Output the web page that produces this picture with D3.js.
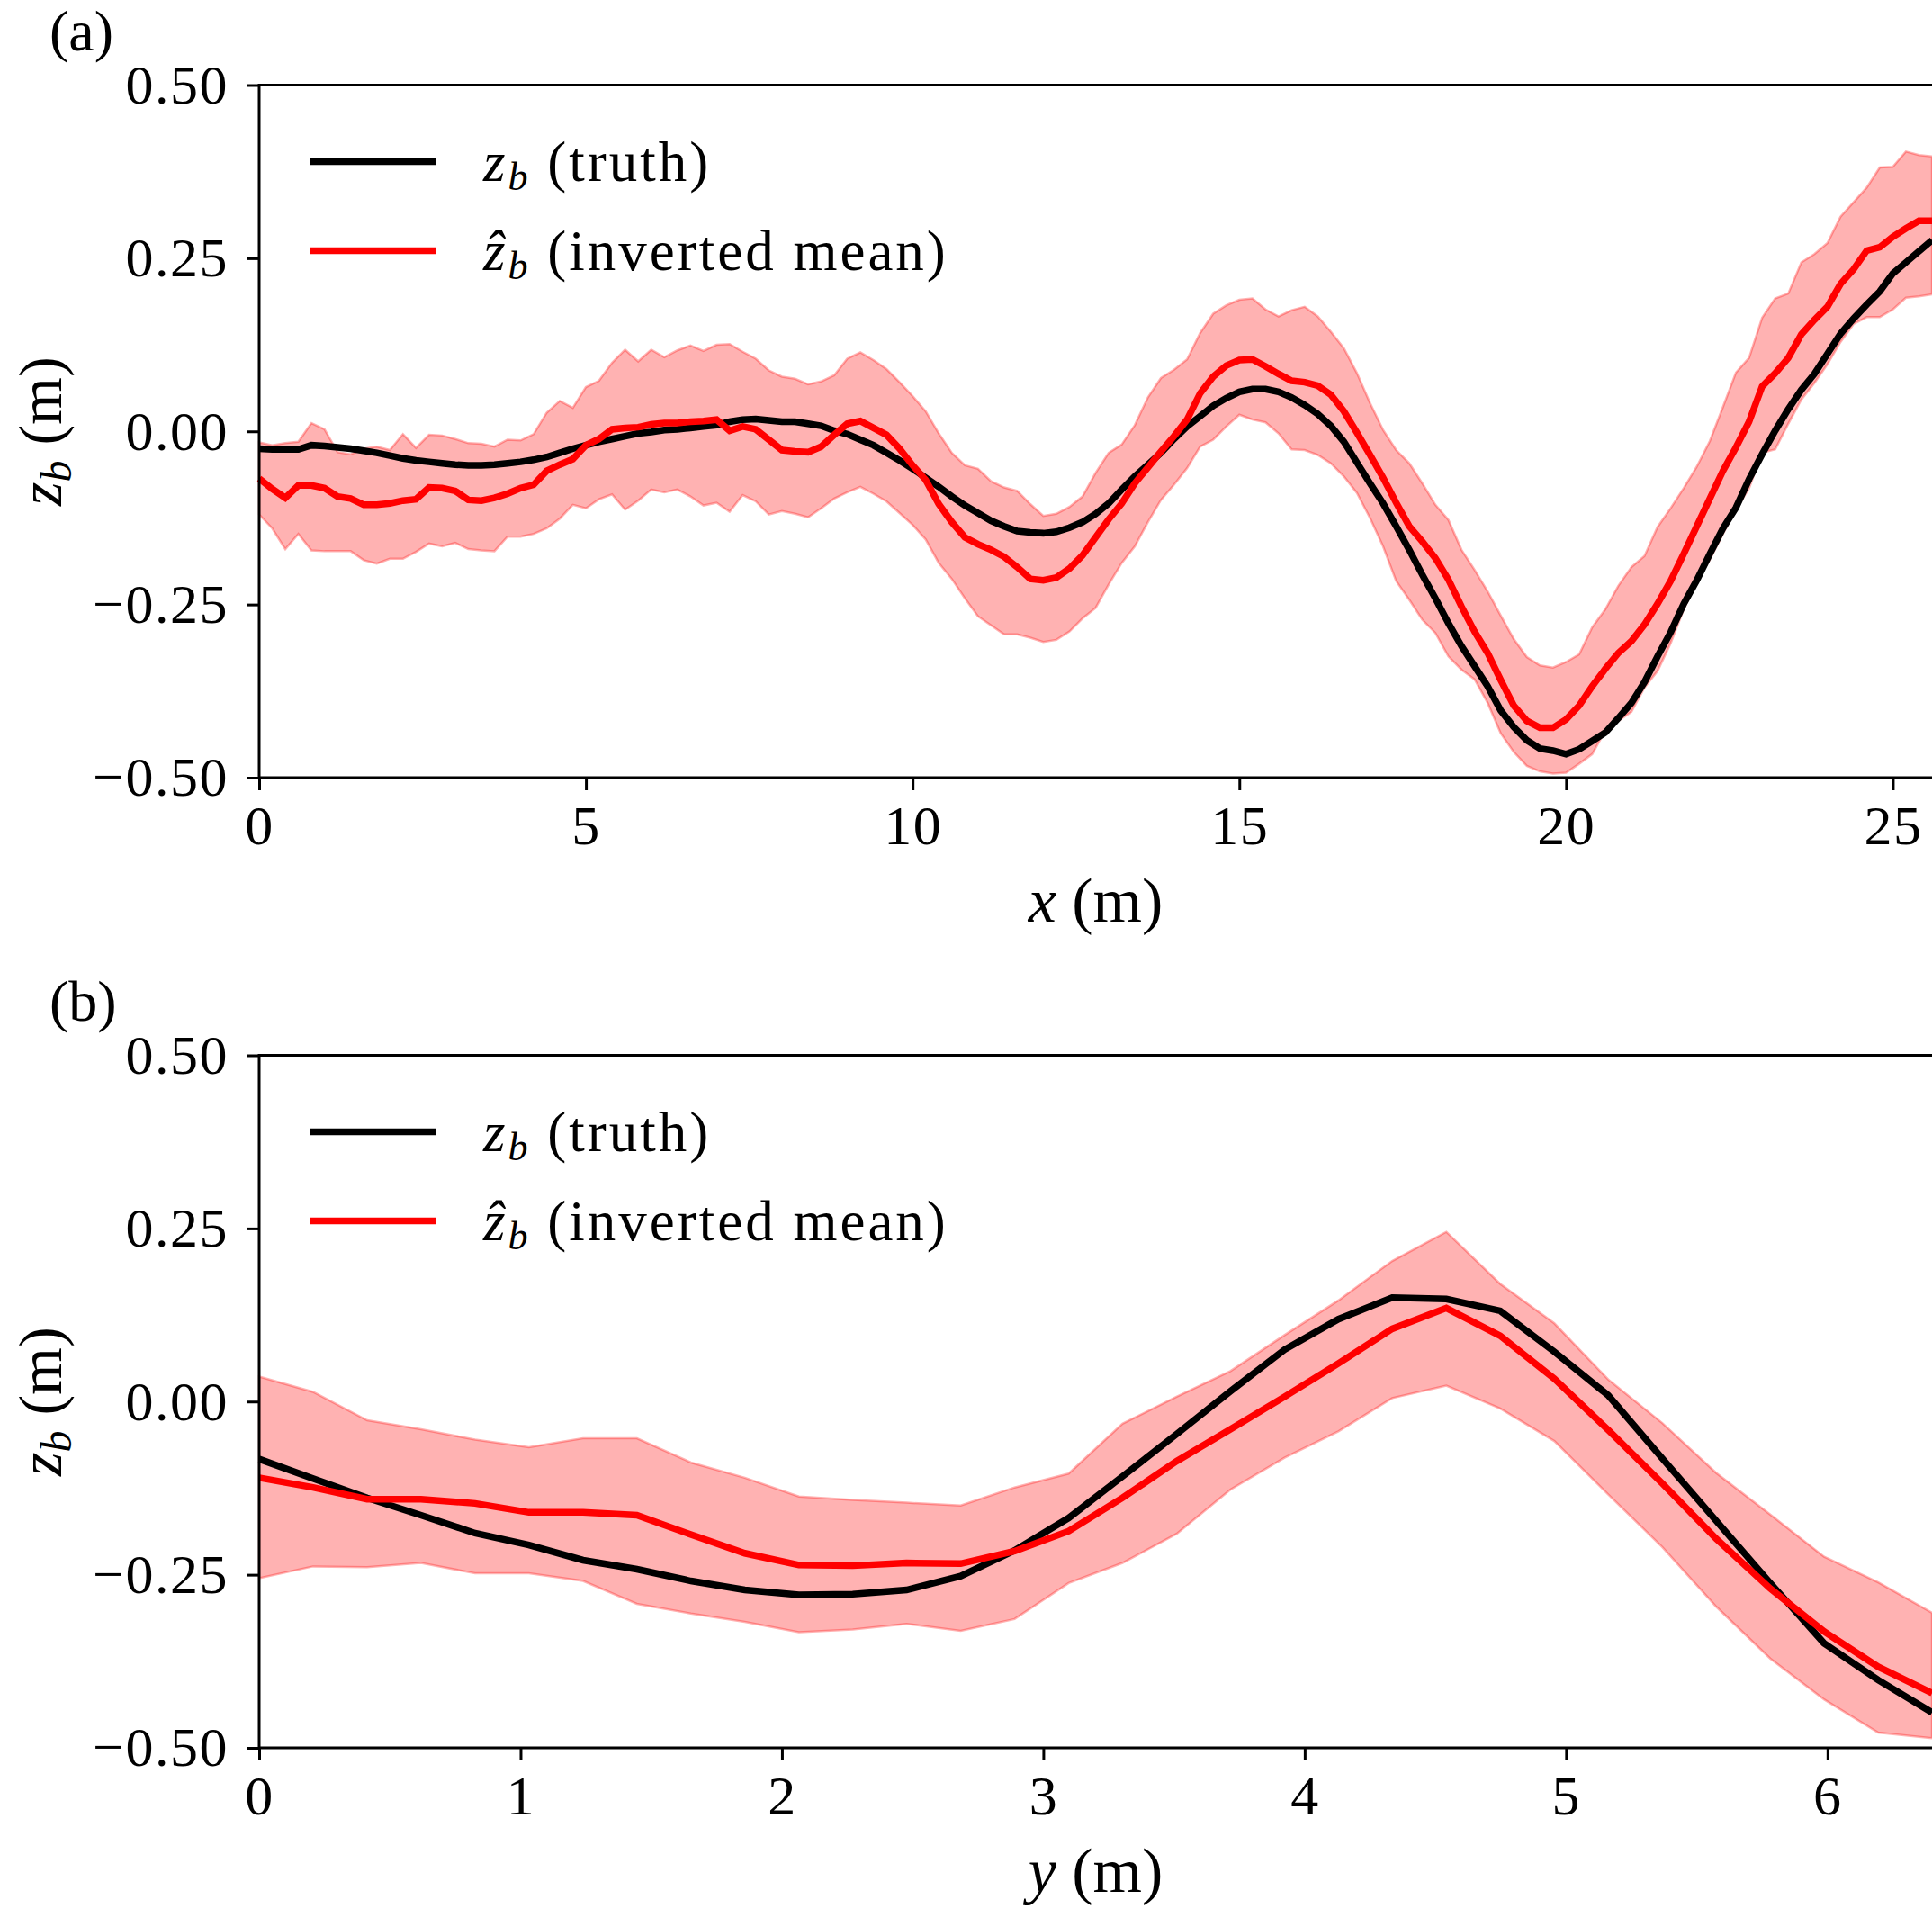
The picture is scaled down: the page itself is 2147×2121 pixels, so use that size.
<!DOCTYPE html>
<html>
<head>
 <meta charset="utf-8">
 <script src="https://d3js.org/d3.v7.min.js"></script>
 <style>
  body { margin: 0; background: #fff; }
  svg text { font-family: "Liberation Serif", "DejaVu Serif", serif; fill: #000; }
 </style>
</head>
<body>
 <div id="fig"></div>
 <script type="text/javascript">
   // ---- panel (a): profile along x ----
   var xA = [0,0.2,0.4,0.6,0.8,1,1.2,1.4,1.6,1.8,2,2.2,2.4,2.6,2.8,3,3.2,3.4,3.6,3.8,4,4.2,4.4,4.6,4.8,
     5,5.2,5.4,5.6,5.8,6,6.2,6.4,6.6,6.8,7,7.2,7.4,7.6,7.8,8,8.2,8.4,8.6,8.8,9,9.2,9.4,9.6,9.8,
     10,10.2,10.4,10.6,10.8,11,11.2,11.4,11.6,11.8,12,12.2,12.4,12.6,12.8,13,13.2,13.4,13.6,13.8,
     14,14.2,14.4,14.6,14.8,15,15.2,15.4,15.6,15.8,16,16.2,16.4,16.6,16.8,17,17.2,17.4,17.6,17.8,
     18,18.2,18.4,18.6,18.8,19,19.2,19.4,19.6,19.8,20,20.2,20.4,20.6,20.8,21,21.2,21.4,21.6,21.8,
     22,22.2,22.4,22.6,22.8,23,23.2,23.4,23.6,23.8,24,24.2,24.4,24.6,24.8,25,25.2,25.4,25.6];
   var truthA = [-0.025,-0.026,-0.026,-0.026,-0.020,-0.021,-0.023,-0.025,-0.028,-0.031,-0.035,-0.039,-0.042,-0.044,-0.046,-0.048,-0.049,-0.049,-0.048,-0.046,-0.044,-0.041,-0.037,-0.031,-0.025,-0.020,-0.015,-0.011,-0.007,-0.003,-0.001,0.002,0.003,
     0.005,0.007,0.009,0.014,0.017,0.018,0.016,0.014,0.014,0.011,0.008,0.001,-0.004,-0.012,-0.020,-0.031,-0.042,-0.054,-0.067,-0.080,-0.094,-0.107,-0.118,-0.129,-0.137,-0.144,-0.146,-0.147,-0.145,-0.139,-0.131,-0.119,
     -0.104,-0.084,-0.065,-0.048,-0.031,-0.011,0.007,0.022,0.037,0.048,0.057,0.061,0.061,0.057,0.049,0.038,0.025,0.008,-0.015,-0.045,-0.075,-0.104,-0.137,-0.171,-0.207,-0.241,-0.277,-0.310,-0.339,-0.368,
     -0.403,-0.427,-0.446,-0.458,-0.461,-0.466,-0.459,-0.447,-0.435,-0.414,-0.392,-0.362,-0.325,-0.290,-0.249,-0.215,-0.177,-0.140,-0.110,-0.069,-0.033,0.001,0.032,0.060,0.083,0.112,0.141,0.163,0.183,0.202,0.228,0.244,0.260,0.276];
   var meanA = [-0.068,-0.083,-0.096,-0.078,-0.078,-0.082,-0.094,-0.097,-0.106,-0.106,-0.104,-0.100,-0.098,-0.081,-0.082,-0.086,-0.099,-0.100,-0.096,-0.090,-0.082,-0.077,-0.057,-0.048,-0.040,-0.020,-0.011,0.003,0.005,0.006,0.010,0.012,0.012,
     0.014,0.015,0.017,0.001,0.007,0.003,-0.012,-0.027,-0.029,-0.030,-0.022,-0.005,0.011,0.015,0.005,-0.005,-0.025,-0.049,-0.070,-0.105,-0.131,-0.153,-0.163,-0.171,-0.181,-0.196,-0.213,-0.215,-0.211,-0.198,-0.179,-0.153,
     -0.127,-0.104,-0.075,-0.052,-0.029,-0.007,0.017,0.055,0.079,0.095,0.103,0.104,0.094,0.083,0.073,0.071,0.066,0.053,0.029,-0.002,-0.034,-0.067,-0.103,-0.137,-0.159,-0.183,-0.214,-0.253,-0.289,-0.320,
     -0.359,-0.396,-0.418,-0.428,-0.428,-0.416,-0.396,-0.368,-0.343,-0.320,-0.303,-0.279,-0.249,-0.216,-0.177,-0.137,-0.097,-0.057,-0.023,0.014,0.065,0.084,0.106,0.140,0.161,0.180,0.213,0.234,0.261,0.266,0.281,0.293,0.304,0.304];
   var upperA = [-0.016,-0.020,-0.017,-0.015,0.012,0.003,-0.030,-0.033,-0.025,-0.022,-0.027,-0.004,-0.024,-0.005,-0.006,-0.011,-0.017,-0.018,-0.022,-0.012,-0.013,-0.004,0.027,0.044,0.034,0.064,0.073,0.099,0.118,0.101,0.118,0.107,0.117,
     0.124,0.116,0.125,0.126,0.115,0.105,0.088,0.079,0.076,0.068,0.072,0.081,0.105,0.114,0.103,0.090,0.071,0.051,0.029,-0.003,-0.031,-0.049,-0.054,-0.072,-0.081,-0.086,-0.105,-0.122,-0.119,-0.109,-0.094,-0.060,
     -0.031,-0.019,0.009,0.049,0.077,0.089,0.104,0.142,0.170,0.182,0.190,0.192,0.176,0.166,0.175,0.180,0.166,0.144,0.120,0.084,0.041,0.002,-0.027,-0.046,-0.075,-0.106,-0.128,-0.171,-0.200,-0.231,
     -0.266,-0.300,-0.326,-0.338,-0.341,-0.333,-0.322,-0.283,-0.257,-0.223,-0.196,-0.180,-0.138,-0.111,-0.082,-0.051,-0.014,0.035,0.085,0.106,0.164,0.192,0.199,0.244,0.256,0.272,0.310,0.331,0.352,0.381,0.382,0.404,0.399,0.397];
   var lowerA = [-0.120,-0.140,-0.170,-0.148,-0.172,-0.173,-0.173,-0.173,-0.186,-0.191,-0.184,-0.184,-0.174,-0.162,-0.166,-0.161,-0.170,-0.172,-0.173,-0.152,-0.152,-0.148,-0.140,-0.126,-0.106,-0.111,-0.098,-0.091,-0.113,-0.100,-0.084,-0.088,-0.084,
     -0.094,-0.107,-0.103,-0.116,-0.092,-0.101,-0.120,-0.115,-0.119,-0.124,-0.111,-0.097,-0.088,-0.080,-0.090,-0.101,-0.118,-0.135,-0.156,-0.190,-0.213,-0.241,-0.267,-0.280,-0.293,-0.293,-0.298,-0.304,-0.301,-0.289,-0.270,-0.255,
     -0.221,-0.190,-0.166,-0.131,-0.099,-0.077,-0.053,-0.022,-0.012,0.007,0.024,0.017,0.013,-0.003,-0.026,-0.027,-0.034,-0.046,-0.065,-0.089,-0.125,-0.166,-0.216,-0.243,-0.272,-0.291,-0.325,-0.344,-0.358,-0.392,
     -0.436,-0.463,-0.483,-0.491,-0.494,-0.493,-0.480,-0.466,-0.432,-0.418,-0.405,-0.370,-0.346,-0.306,-0.257,-0.217,-0.185,-0.148,-0.113,-0.082,-0.031,-0.026,0.011,0.046,0.070,0.097,0.129,0.155,0.165,0.165,0.176,0.193,0.195,0.198];

   // ---- panel (b): profile along y ----
   var xB = [0,0.206,0.413,0.619,0.826,1.032,1.239,1.445,1.652,1.858,2.065,2.271,2.477,2.684,2.890,3.097,
     3.303,3.510,3.716,3.923,4.129,4.335,4.542,4.748,4.955,5.161,5.368,5.574,5.781,5.987,6.194,6.4];
   var truthB = [-0.083,-0.111,-0.139,-0.164,-0.190,-0.207,-0.229,-0.242,-0.259,-0.272,-0.279,-0.278,-0.272,-0.252,-0.215,-0.168,
     -0.108,-0.047,0.015,0.075,0.119,0.150,0.148,0.131,0.072,0.009,-0.082,-0.172,-0.262,-0.349,-0.402,-0.449];
   var meanB = [-0.110,-0.124,-0.141,-0.141,-0.147,-0.160,-0.160,-0.164,-0.192,-0.219,-0.236,-0.237,-0.233,-0.234,-0.216,-0.187,
     -0.139,-0.086,-0.040,0.007,0.055,0.105,0.135,0.095,0.033,-0.041,-0.118,-0.198,-0.270,-0.332,-0.383,-0.421];
   var upperB = [0.036,0.014,-0.027,-0.040,-0.055,-0.066,-0.053,-0.053,-0.088,-0.110,-0.137,-0.142,-0.146,-0.150,-0.124,-0.104,
     -0.032,0.007,0.044,0.096,0.146,0.203,0.245,0.170,0.113,0.032,-0.031,-0.103,-0.163,-0.224,-0.261,-0.305];
   var lowerB = [-0.255,-0.238,-0.239,-0.233,-0.248,-0.248,-0.259,-0.292,-0.306,-0.318,-0.333,-0.329,-0.321,-0.331,-0.314,-0.262,
     -0.233,-0.191,-0.127,-0.081,-0.043,0.005,0.023,-0.010,-0.057,-0.134,-0.210,-0.296,-0.371,-0.430,-0.478,-0.486];

   var yTicks = [-0.5, -0.25, 0, 0.25, 0.5];
   var xTicksA = [0, 5, 10, 15, 20, 25];
   var xTicksB = [0, 1, 2, 3, 4, 5, 6];

   var width = 2147, height = 2121;
   var left = 288, plotH = 769.5;
   var svg = d3.select("#fig").append("svg")
               .attr("width", width)
               .attr("height", height);

   // one panel: band, two lines, axes, legend, labels
   var drawPanel = function(p) {
     var g = svg.append("g").attr("transform", "translate(0," + p.top + ")");
     var xScale = d3.scaleLinear().domain([0, p.xmax]).range([left, width]);
     var yScale = d3.scaleLinear().domain([-0.5, 0.5]).range([plotH, 0]);
     var rows = p.x.map(function(d, i) {
       return {x: d, t: p.truth[i], m: p.mean[i], lo: p.lower[i], hi: p.upper[i]};
     });

     var band = d3.area()
                  .x(function(d) { return xScale(d.x); })
                  .y0(function(d) { return yScale(d.lo); })
                  .y1(function(d) { return yScale(d.hi); });
     g.append("path").datum(rows)
      .attr("d", band)
      .style("fill", "red").style("fill-opacity", 0.3)
      .style("stroke", "red").style("stroke-opacity", 0.3)
      .style("stroke-width", 2.5);

     var lineT = d3.line().x(function(d) { return xScale(d.x); }).y(function(d) { return yScale(d.t); });
     var lineM = d3.line().x(function(d) { return xScale(d.x); }).y(function(d) { return yScale(d.m); });
     g.append("path").datum(rows).attr("d", lineT)
      .style("fill", "none").style("stroke", "#000").style("stroke-width", 7.5);
     g.append("path").datum(rows).attr("d", lineM)
      .style("fill", "none").style("stroke", "red").style("stroke-width", 7.5);

     // axes
     var xAxis = d3.axisBottom(xScale).tickValues(p.xticks).tickSize(14).tickPadding(16)
                   .tickFormat(d3.format("d"));
     var yAxis = d3.axisLeft(yScale).tickValues(yTicks).tickSize(14).tickPadding(20)
                   .tickFormat(d3.format(".2f"));
     var gx = g.append("g").attr("transform", "translate(0," + plotH + ")").call(xAxis);
     var gy = g.append("g").attr("transform", "translate(" + left + ",0)").call(yAxis);
     [gx, gy].forEach(function(a) {
       a.attr("font-family", null).attr("font-size", null);
       a.select(".domain").remove();
       a.selectAll(".tick line").style("stroke", "#000").style("stroke-width", 3);
       a.selectAll(".tick text").style("font-size", "62px").style("letter-spacing", "1.5px");
     });

     // spines (right one falls on the picture edge)
     g.append("path")
      .attr("d", "M" + width + ",0H" + left + "V" + plotH + "H" + width)
      .style("fill", "none").style("stroke", "#000").style("stroke-width", 3)
      .style("stroke-linecap", "square");

     // legend
     var leg = [{c: "#000", sym: "z", txt: " (truth)", y: 85},
                {c: "red", sym: "\u1E91", txt: " (inverted mean)", y: 184}];
     leg.forEach(function(l) {
       g.append("line").attr("x1", 344).attr("x2", 484).attr("y1", l.y).attr("y2", l.y)
        .style("stroke", l.c).style("stroke-width", 7.5);
       var t = g.append("text").attr("x", 537).attr("y", l.y + 21)
                .style("font-size", "63px").style("letter-spacing", "3px");
       t.append("tspan").style("font-style", "italic").text(l.sym);
       t.append("tspan").style("font-style", "italic").style("font-size", "44px").attr("dy", 10).text("b");
       t.append("tspan").attr("dy", -10).text(l.txt);
     });

     // axis labels
     var xl = g.append("text").attr("x", (left + width) / 2).attr("y", plotH + 160)
               .attr("text-anchor", "middle").style("font-size", "70px");
     xl.append("tspan").style("font-style", "italic").text(p.xname);
     xl.append("tspan").text(" (m)");

     var yl = g.append("text")
               .attr("transform", "translate(68," + (plotH / 2) + ") rotate(-90)")
               .attr("text-anchor", "middle").style("font-size", "68px");
     yl.append("tspan").style("font-style", "italic").text("z");
     yl.append("tspan").style("font-style", "italic").style("font-size", "48px").attr("dy", 11).text("b");
     yl.append("tspan").attr("dy", -11).text(" (m)");

     g.append("text").attr("x", 55).attr("y", -39).style("font-size", "64px").text(p.tag);
   };

   drawPanel({top: 94.5, xmax: 25.6, x: xA, truth: truthA, mean: meanA, upper: upperA, lower: lowerA,
              xticks: xTicksA, xname: "x", tag: "(a)"});
   drawPanel({top: 1172.5, xmax: 6.4, x: xB, truth: truthB, mean: meanB, upper: upperB, lower: lowerB,
              xticks: xTicksB, xname: "y", tag: "(b)"});
 </script>
</body>
</html>
